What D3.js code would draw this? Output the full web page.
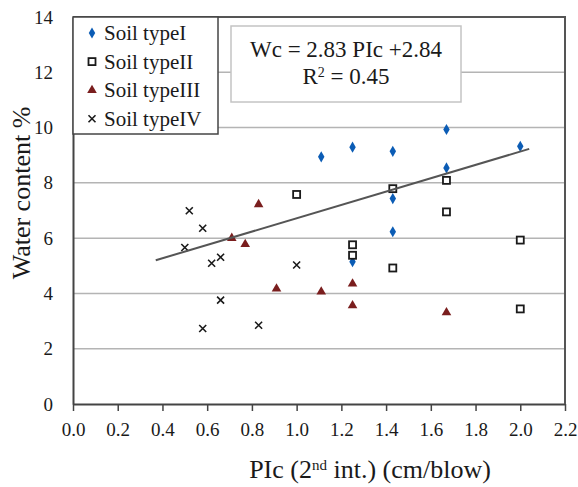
<!DOCTYPE html>
<html lang="en">
<head>
<meta charset="UTF-8">
<title>Water content vs PIc</title>
<script src="https://d3js.org/d3.v7.min.js"></script>
<style>
  body { margin: 0; background: #fff; }
  svg text { font-family: "Liberation Serif", "Times New Roman", Times, serif; fill: #1a1a1a; }
</style>
</head>
<body>
<div id="chart"></div>
<script>
// values
const typeIx = [1.11, 1.25, 1.43, 1.67, 1.67, 2.00, 1.43, 1.43, 1.25];
const typeIy = [8.94, 9.29, 9.14, 9.93, 8.54, 9.32, 7.43, 6.23, 5.15];
const typeIIx = [1.00, 1.43, 1.67, 1.67, 2.00, 1.25, 1.25, 1.43, 2.00];
const typeIIy = [7.58, 7.79, 8.09, 6.95, 5.93, 5.76, 5.38, 4.92, 3.44];
const typeIIIx = [0.83, 0.71, 0.77, 0.91, 1.11, 1.25, 1.25, 1.67];
const typeIIIy = [7.22, 6.00, 5.78, 4.17, 4.06, 4.35, 3.56, 3.31];
const typeIVx = [0.52, 0.58, 0.50, 0.62, 0.66, 1.00, 0.66, 0.58, 0.83];
const typeIVy = [6.99, 6.36, 5.66, 5.09, 5.31, 5.03, 3.76, 2.73, 2.85];
const trendX = [0.37, 2.04];
const trendY = [5.20, 9.23];
const xTicks = [0, 0.2, 0.4, 0.6, 0.8, 1.0, 1.2, 1.4, 1.6, 1.8, 2.0, 2.2];
const yTicks = [0, 2, 4, 6, 8, 10, 12, 14];
const seriesNames = ["Soil typeI", "Soil typeII", "Soil typeIII", "Soil typeIV"];

const width = 578, height = 487;
const margin = {top: 17, right: 13, bottom: 83, left: 73};
const iw = width - margin.left - margin.right;
const ih = height - margin.top - margin.bottom;
const serif = '"Liberation Serif", "Times New Roman", Times, serif';

const svg = d3.select('#chart').append('svg')
    .attr('width', width)
    .attr('height', height);

const g = svg.append('g').attr('transform', `translate(${margin.left},${margin.top})`);

const x = d3.scaleLinear().domain([0, 2.2]).range([0, iw]);
const y = d3.scaleLinear().domain([0, 14]).range([ih, 0]);

// gridlines
g.selectAll('.grid').data(yTicks.filter(d => d > 0 && d < 14)).enter()
    .append('line')
    .attr('x1', 0).attr('x2', iw)
    .attr('y1', d => y(d)).attr('y2', d => y(d))
    .attr('stroke', '#b4b4b4').attr('stroke-width', 1.5);

// x axis
const xAxis = g.append('g')
    .attr('transform', `translate(0,${ih})`)
    .call(d3.axisBottom(x).tickValues(xTicks).tickFormat(d3.format('.1f')).tickSize(7).tickSizeOuter(0));
xAxis.attr('font-family', null).style('font-family', serif);
xAxis.select('.domain').attr('stroke', '#444').attr('stroke-width', 2);
xAxis.selectAll('.tick line').attr('stroke', '#444').attr('stroke-width', 1.5);
xAxis.selectAll('.tick text')
    .attr('dy', '1.15em')
    .style('font-size', '19px').style('font-family', serif).attr('fill', '#1a1a1a');

// y axis
const yAxis = g.append('g')
    .call(d3.axisLeft(y).tickValues(yTicks).tickFormat(d3.format('d')).tickSize(0).tickPadding(20));
yAxis.attr('font-family', null).style('font-family', serif);
yAxis.select('.domain').attr('stroke', '#444').attr('stroke-width', 2);
yAxis.selectAll('.tick text')
    .style('font-size', '19px').style('font-family', serif).attr('fill', '#1a1a1a');

// top and right frame
g.append('path')
    .attr('d', `M0,0H${iw}V${ih}`)
    .attr('fill', 'none').attr('stroke', '#555').attr('stroke-width', 2);

// markers
const diamond = d3.symbol().type(d3.symbolDiamond).size(36);
const tri = d3.symbol().type(d3.symbolTriangle).size(40);

function drawSeries(xs, ys, kind) {
    const pts = xs.map((v, i) => ({x: v, y: ys[i]}));
    const sel = g.append('g').selectAll('g').data(pts).enter().append('g')
        .attr('transform', d => `translate(${x(d.x)},${y(d.y)})`);
    drawMarker(sel, kind);
}

function drawMarker(sel, kind) {
    if (kind === 0) {
        sel.append('path').attr('d', diamond).attr('fill', '#0b5cb5');
    } else if (kind === 1) {
        sel.append('rect').attr('x', -3.5).attr('y', -3.5).attr('width', 7).attr('height', 7)
            .attr('fill', '#fff').attr('stroke', '#1a1a1a').attr('stroke-width', 1.8);
    } else if (kind === 2) {
        sel.append('path').attr('d', tri).attr('fill', '#7a1e1e');
    } else {
        sel.append('path').attr('d', 'M-3.5,-3.5L3.5,3.5M-3.5,3.5L3.5,-3.5')
            .attr('stroke', '#1a1a1a').attr('stroke-width', 1.6);
    }
}

drawSeries(typeIx, typeIy, 0);
drawSeries(typeIIx, typeIIy, 1);
drawSeries(typeIIIx, typeIIIy, 2);
drawSeries(typeIVx, typeIVy, 3);

// trend line
g.append('line')
    .attr('x1', x(trendX[0])).attr('y1', y(trendY[0]))
    .attr('x2', x(trendX[1])).attr('y2', y(trendY[1]))
    .attr('stroke', '#555').attr('stroke-width', 2);

// legend box
const legend = g.append('g');
legend.append('rect')
    .attr('x', 0).attr('y', 0).attr('width', 145).attr('height', 117)
    .attr('fill', '#fff').attr('stroke', '#444').attr('stroke-width', 1.5);
seriesNames.forEach((name, i) => {
    const row = legend.append('g').attr('transform', `translate(19,${16 + i * 28.6})`);
    drawMarker(row, i);
    row.append('text')
        .attr('x', 12).attr('y', 7)
        .style('font-size', '21px')
        .text(name);
});

// equation box
const eq = g.append('g').attr('transform', 'translate(158,9)');
eq.append('rect')
    .attr('width', 230).attr('height', 76)
    .attr('fill', '#fff').attr('stroke', '#c4c4c4').attr('stroke-width', 1.5);
eq.append('text')
    .attr('x', 115).attr('y', 31)
    .attr('text-anchor', 'middle').style('font-size', '23px')
    .text('Wc = 2.83 PIc +2.84');
const r2 = eq.append('text')
    .attr('x', 115).attr('y', 58)
    .attr('text-anchor', 'middle').style('font-size', '23px');
r2.append('tspan').text('R');
r2.append('tspan').attr('baseline-shift', 'super').style('font-size', '14px').text('2');
r2.append('tspan').text(' = 0.45');

// axis titles
svg.append('text')
    .attr('x', 370).attr('y', 478)
    .attr('text-anchor', 'middle').style('font-size', '26px')
    .call(t => {
        t.append('tspan').text('PIc (2');
        t.append('tspan').attr('baseline-shift', 'super').style('font-size', '15px').text('nd');
        t.append('tspan').text(' int.) (cm/blow)');
    });

svg.append('text')
    .attr('transform', 'translate(30,193) rotate(-90)')
    .attr('text-anchor', 'middle').style('font-size', '26px')
    .text('Water content %');
</script>
</body>
</html>
